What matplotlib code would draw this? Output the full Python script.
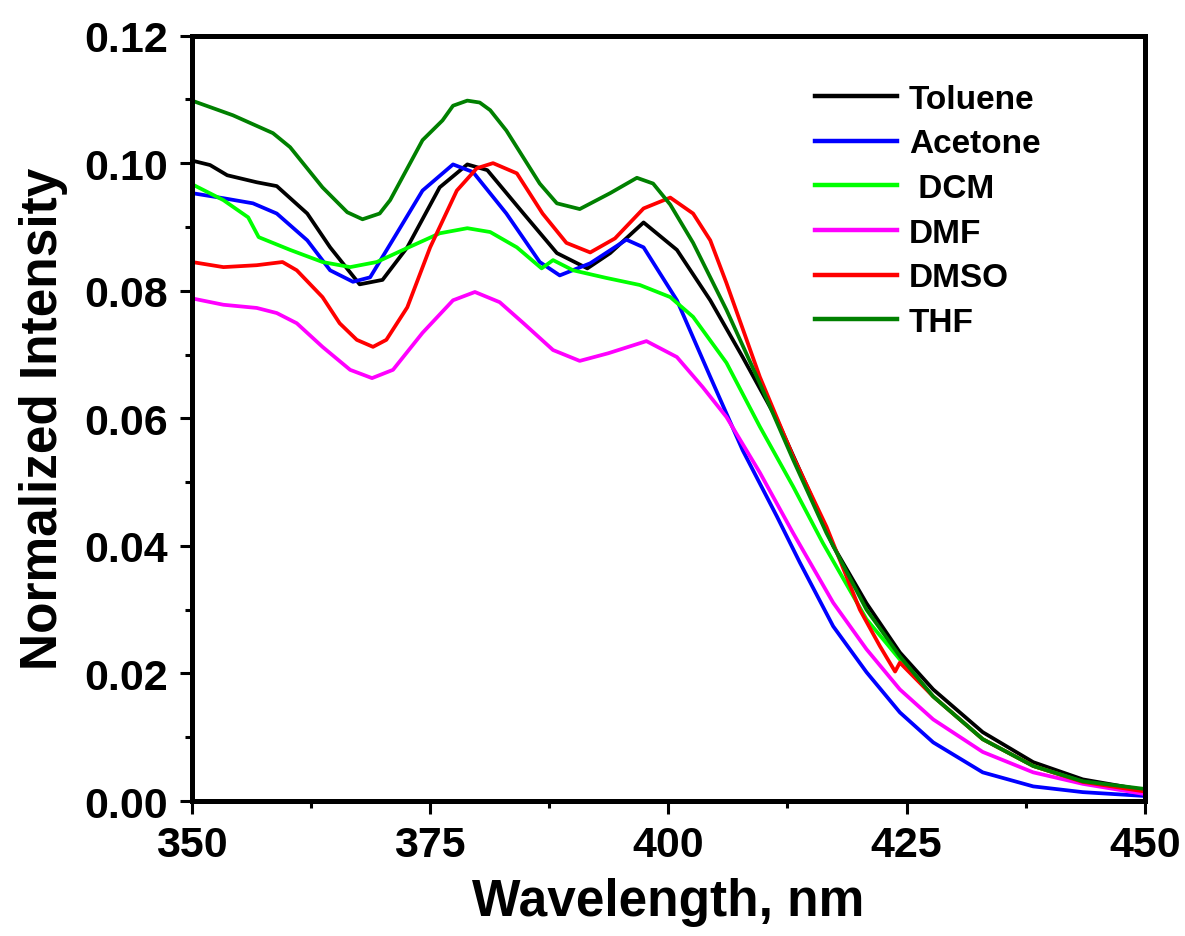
import numpy as np
import matplotlib.pyplot as plt
from matplotlib.ticker import MultipleLocator

plt.rcParams['font.family'] = ['Liberation Sans', 'DejaVu Sans']
plt.rcParams['font.weight'] = 'bold'

# spectra (wavelength nm, normalized intensity)
wl_tol = [350, 351.9, 353.7, 356.8, 358.9, 362.1, 364.5, 367.6, 370, 372.6, 376, 378.9, 381, 384.8,
          388.3, 391.5, 393.9, 397.4, 400.9, 404.4, 407.8, 411.4, 414.8, 417.3, 420.8, 424.3, 427.8,
          433, 438.3, 443.5, 450]
tol = [0.1004, 0.0997, 0.0981, 0.0970, 0.0964, 0.0921, 0.0868, 0.0810, 0.0817, 0.0868, 0.0962, 0.0998,
       0.0989, 0.0921, 0.0859, 0.0835, 0.0859, 0.0907, 0.0864, 0.0785, 0.0696, 0.0598, 0.0485, 0.0400,
       0.0310, 0.0233, 0.0175, 0.0108, 0.0061, 0.0034, 0.0017]

wl_ace = [350, 353.3, 356.4, 358.9, 362.1, 364.5, 366.9, 368.7, 371.5, 374.2, 377.4, 379.5, 383, 386.5,
          388.6, 391.8, 395.6, 397.4, 400.9, 404.4, 407.8, 411.4, 413.8, 417.3, 420.8, 424.3, 427.8,
          433, 438.3, 443.5, 450]
ace = [0.0953, 0.0945, 0.0937, 0.0921, 0.0879, 0.0832, 0.0814, 0.0821, 0.0890, 0.0957, 0.0998, 0.0986,
       0.0921, 0.0845, 0.0824, 0.0843, 0.0880, 0.0868, 0.0785, 0.0665, 0.0550, 0.0446, 0.0374, 0.0274,
       0.0202, 0.0139, 0.0092, 0.0045, 0.0023, 0.0014, 0.0008]

wl_dcm = [350, 353.3, 355.9, 357, 360.3, 363.7, 366.6, 369.4, 372.6, 376, 378.9, 381.3, 384.1, 386.7,
          387.9, 390, 393.5, 397, 400.2, 402.6, 406.1, 409.6, 413.1, 416.2, 420.8, 424.3, 427.8, 433,
          438.3, 443.5, 450]
dcm = [0.0967, 0.0942, 0.0915, 0.0884, 0.0864, 0.0845, 0.0837, 0.0845, 0.0867, 0.0890, 0.0898, 0.0892,
       0.0868, 0.0835, 0.0848, 0.0832, 0.0820, 0.0809, 0.0790, 0.0759, 0.0687, 0.0587, 0.0493, 0.0405,
       0.0285, 0.0222, 0.0164, 0.0097, 0.0055, 0.0030, 0.0017]

wl_dmf = [350, 353.3, 356.8, 358.9, 361, 363.7, 366.6, 368.9, 371.1, 374.2, 377.4, 379.7, 382.3, 384.8,
          387.9, 390.7, 393.7, 397.7, 400.9, 403.6, 406.1, 409.6, 413.1, 417.3, 420.8, 424.3, 427.8,
          433, 438.3, 443.5, 450]
dmf = [0.0788, 0.0778, 0.0773, 0.0765, 0.0749, 0.0712, 0.0676, 0.0663, 0.0676, 0.0734, 0.0785, 0.0798,
       0.0782, 0.0749, 0.0707, 0.0690, 0.0702, 0.0721, 0.0696, 0.0649, 0.0602, 0.0515, 0.0420, 0.0311,
       0.0238, 0.0175, 0.0128, 0.0077, 0.0045, 0.0027, 0.0011]

wl_dmso = [350, 353.3, 356.8, 359.5, 361, 363.7, 365.5, 367.3, 369, 370.4, 372.6, 375, 377.8, 379.9,
           381.6, 384.1, 386.8, 389.3, 391.8, 394.4, 397.4, 400.2, 402.6, 404.4, 406.1, 409.6, 413.1,
           416.6, 420.1, 422.2, 423.8, 424.3, 427.8, 433, 438.3, 443.5, 450]
dmso = [0.0845, 0.0837, 0.0840, 0.0845, 0.0832, 0.0790, 0.0749, 0.0723, 0.0712, 0.0723, 0.0774, 0.0868,
        0.0957, 0.0992, 0.1000, 0.0984, 0.0921, 0.0875, 0.0860, 0.0882, 0.0929, 0.0946, 0.0921, 0.0879,
        0.0812, 0.0665, 0.0540, 0.0430, 0.0300, 0.0243, 0.0203, 0.0217, 0.0164, 0.0097, 0.0055, 0.0030,
        0.0015]

wl_thf = [350, 354.3, 358.5, 360.3, 363.7, 366.3, 367.9, 369.7, 370.8, 374.2, 376.3, 377.4, 378.9, 380.2,
          381.3, 383, 386.5, 388.3, 390.7, 393.9, 396.7, 398.4, 400.2, 402.6, 406.1, 409.6, 413.1, 416.6,
          420.8, 424.3, 427.8, 433, 438.3, 443.5, 450]
thf = [0.1098, 0.1075, 0.1047, 0.1025, 0.0962, 0.0923, 0.0912, 0.0921, 0.0942, 0.1036, 0.1067, 0.1090,
       0.1098, 0.1095, 0.1083, 0.1051, 0.0968, 0.0937, 0.0928, 0.0953, 0.0977, 0.0968, 0.0935, 0.0875,
       0.0770, 0.0655, 0.0535, 0.0420, 0.0300, 0.0227, 0.0164, 0.0097, 0.0055, 0.0031, 0.0019]

labels = ['Toluene', 'Acetone', ' DCM', 'DMF', 'DMSO', 'THF']
colors = ['black', 'blue', '#00ff00', 'magenta', 'red', 'green']

fig = plt.figure(figsize=(11.85, 9.37), dpi=100)
ax = fig.add_axes([0.162, 0.144, 0.804, 0.817])

series = [(wl_tol, tol), (wl_ace, ace), (wl_dcm, dcm), (wl_dmf, dmf), (wl_dmso, dmso), (wl_thf, thf)]
for (x, y), lab, c in zip(series, labels, colors):
    ax.plot(x, y, color=c, lw=2.7, label=lab)

ax.set_xlim(350, 450)
ax.set_ylim(0, 0.12)
ax.xaxis.set_major_locator(MultipleLocator(25))
ax.xaxis.set_minor_locator(MultipleLocator(12.5))
ax.yaxis.set_major_locator(MultipleLocator(0.02))
ax.yaxis.set_minor_locator(MultipleLocator(0.01))
ax.yaxis.set_major_formatter(plt.FormatStrFormatter('%.2f'))

for s in ax.spines.values():
    s.set_linewidth(3.6)
ax.tick_params(which='major', direction='out', length=9, width=2.2, labelsize=31, pad=8)
ax.tick_params(which='minor', direction='out', length=5, width=2.2)

ax.set_xlabel('Wavelength, nm', fontsize=37, fontweight='bold', labelpad=9)
ax.set_ylabel('Normalized Intensity', fontsize=37, fontweight='bold', labelpad=12)

leg = ax.legend(loc='upper left', bbox_to_anchor=(0.654, 0.937), frameon=False, fontsize=24,
                handlelength=2.46, labelspacing=0.41, handletextpad=0.35,
                borderaxespad=0, borderpad=0)
for line in leg.get_lines():
    line.set_linewidth(3.2)

plt.savefig('out.png', dpi=100)
